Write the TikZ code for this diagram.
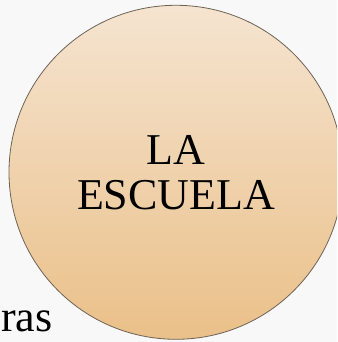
\documentclass[tikz,border=0pt]{standalone}
\usepackage{fontspec}
\setmainfont{Liberation Serif}
\definecolor{paper}{RGB}{248,248,248}
\definecolor{sandtop}{RGB}{245,228,208}
\definecolor{sandbot}{RGB}{234,192,137}
\definecolor{rim}{RGB}{110,98,86}

\begin{document}
\begin{tikzpicture}[x=1pt,y=1pt]
\useasboundingbox (0,0) rectangle (337,342);
\clip (0,0) rectangle (337,342);
\fill[paper] (0,0) rectangle (337,342);

\coordinate (C1) at (176,169.7);

\tikzset{CircleStyle/.style = {
 shape = circle,
 draw = rim,
 line width = 0.8pt,
 top color = sandtop,
 bottom color = sandbot,
 minimum size = 334pt,
 inner sep = 0pt,
 align = center,
 font = \fontsize{44}{45}\selectfont} }

\tikzset{WordStyle/.style = {
 inner sep = 0pt,
 font = \fontsize{44}{44}\selectfont} }

\node[WordStyle, anchor=base west] (W1) at (1,10) {ras};
\node[CircleStyle] (S1) at (C1) {LA\\ESCUELA};

\end{tikzpicture}
\end{document}
